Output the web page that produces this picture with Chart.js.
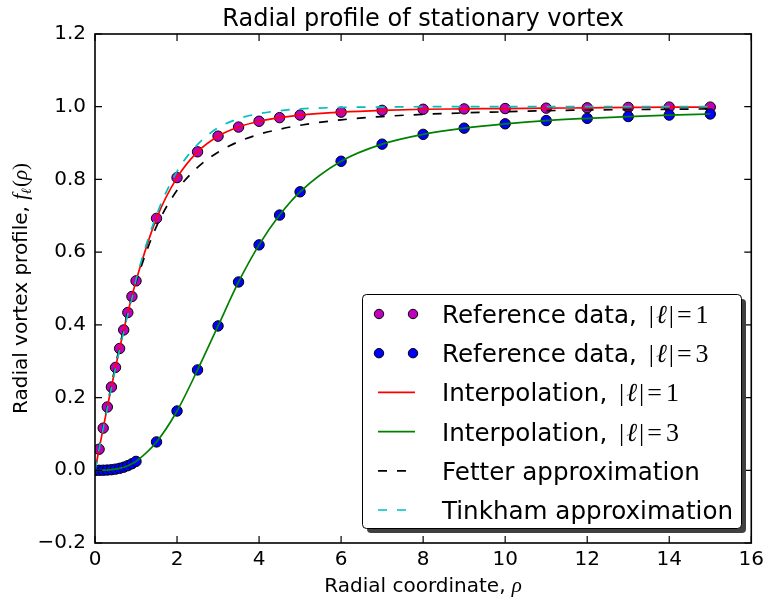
<!DOCTYPE html>
<html>
<head>
<meta charset="utf-8">
<title>Radial profile of stationary vortex</title>
<script src="https://cdn.jsdelivr.net/npm/chart.js@4.4.1/dist/chart.umd.min.js"></script>
<style>
  html, body { margin: 0; padding: 0; background: #fff; }
  canvas { display: block; }
</style>
</head>
<body>
<canvas id="vortexChart" width="769" height="599"></canvas>
<script>
// radial coordinate of the sampled points
const rho = [0, 0.1, 0.2, 0.3, 0.4, 0.5, 0.6, 0.7, 0.8, 0.9, 1.0,
  1.5, 2, 2.5, 3, 3.5, 4, 4.5, 5, 6, 7, 8, 9, 10, 11, 12, 13, 14, 15];

// reference data
const refL1 = [0, 0.058, 0.116, 0.174, 0.229, 0.283, 0.335, 0.386, 0.434, 0.478, 0.521,
  0.693, 0.805, 0.876, 0.919, 0.944, 0.960, 0.970, 0.977, 0.985, 0.990, 0.993, 0.994,
  0.995, 0.996, 0.997, 0.998, 0.999, 0.999];
const refL3 = [0, 0.0000, 0.0002, 0.0007, 0.0016, 0.0031, 0.0054, 0.0085, 0.0127, 0.0180, 0.0245,
  0.078, 0.163, 0.276, 0.397, 0.518, 0.620, 0.702, 0.766, 0.850, 0.897, 0.924, 0.941,
  0.953, 0.962, 0.968, 0.973, 0.977, 0.980];

// approximations (dashed curves)
const fetter = [0, 0.060, 0.120, 0.178, 0.235, 0.289, 0.340, 0.389, 0.435, 0.477, 0.517,
  0.671, 0.770, 0.833, 0.875, 0.904, 0.924, 0.938, 0.949, 0.964, 0.973, 0.979, 0.983,
  0.986, 0.989, 0.991, 0.992, 0.993, 0.994];
const tinkham = [0, 0.058, 0.116, 0.172, 0.228, 0.282, 0.333, 0.382, 0.429, 0.473, 0.523,
  0.702, 0.822, 0.896, 0.942, 0.967, 0.981, 0.989, 0.994, 0.998, 0.999, 1.0, 1.0,
  1.0, 1.0, 1.0, 1.0, 1.0, 1.0];

const xTicks = [0, 2, 4, 6, 8, 10, 12, 14, 16];
const yTicks = [-0.2, 0.0, 0.2, 0.4, 0.6, 0.8, 1.0, 1.2];

const SANS = '"DejaVu Sans", sans-serif';
const SERIF = '"Liberation Serif", "DejaVu Serif", serif';

const toPoints = ys => rho.map((r, i) => ({ x: r, y: ys[i] }));

// draws a row of text pieces with different fonts
function drawRuns(ctx, runs, x, y, align) {
  let total = 0;
  runs.forEach(r => {
    ctx.font = r.font;
    total += ctx.measureText(r.t).width + (r.gap || 0);
  });
  let cx = align === 'center' ? x - total / 2 : x;
  ctx.textAlign = 'left';
  ctx.textBaseline = 'alphabetic';
  runs.forEach(r => {
    ctx.font = r.font;
    ctx.fillText(r.t, cx, y + (r.dy || 0));
    cx += ctx.measureText(r.t).width + (r.gap || 0);
  });
}

function mathEll(n, size) {
  const up = `${size}px ${SERIF}`;
  return [
    { t: '|', font: up, gap: 2 },
    { t: 'ℓ', font: `italic ${size}px ${SERIF}`, gap: 2 },
    { t: '|', font: up, gap: 3 },
    { t: '=', font: up, gap: 4 },
    { t: n, font: up }
  ];
}

// frame, inward ticks, axis labels and the shadowed legend
const decorations = {
  id: 'decorations',
  afterDatasetsDraw(chart) {
    const { ctx, chartArea: a, scales } = chart;
    ctx.save();
    ctx.strokeStyle = '#000';
    ctx.lineWidth = 1.2;
    ctx.beginPath();
    xTicks.forEach(v => {
      const px = scales.x.getPixelForValue(v);
      ctx.moveTo(px, a.bottom); ctx.lineTo(px, a.bottom - 7);
      ctx.moveTo(px, a.top); ctx.lineTo(px, a.top + 7);
    });
    yTicks.forEach(v => {
      const py = scales.y.getPixelForValue(v);
      ctx.moveTo(a.left, py); ctx.lineTo(a.left + 7, py);
      ctx.moveTo(a.right, py); ctx.lineTo(a.right - 7, py);
    });
    ctx.stroke();
    ctx.lineWidth = 1.6;
    ctx.strokeRect(a.left, a.top, a.right - a.left, a.bottom - a.top);
    ctx.restore();
  },
  afterDraw(chart) {
    const { ctx, chartArea: a } = chart;
    ctx.save();
    ctx.fillStyle = '#000';

    // x label
    drawRuns(ctx, [
      { t: 'Radial coordinate, ', font: `20px ${SANS}` },
      { t: 'ρ', font: `italic 21px ${SERIF}` }
    ], (a.left + a.right) / 2, 592, 'center');

    // y label, rotated
    ctx.save();
    ctx.translate(27, (a.top + a.bottom) / 2);
    ctx.rotate(-Math.PI / 2);
    drawRuns(ctx, [
      { t: 'Radial vortex profile, ', font: `20px ${SANS}` },
      { t: 'f', font: `italic 21px ${SERIF}`, gap: 0 },
      { t: 'ℓ', font: `italic 14px ${SERIF}`, dy: 4, gap: 1 },
      { t: '(', font: `21px ${SERIF}` },
      { t: 'ρ', font: `italic 21px ${SERIF}` },
      { t: ')', font: `21px ${SERIF}` }
    ], 0, 0, 'center');
    ctx.restore();

    // legend box with shadow
    const L = { x: 362, y: 294, w: 379, h: 234 };
    ctx.fillStyle = '#404040';
    ctx.beginPath();
    ctx.roundRect(L.x + 5, L.y + 5, L.w, L.h, 4);
    ctx.fill();
    ctx.fillStyle = '#fff';
    ctx.strokeStyle = '#000';
    ctx.lineWidth = 1;
    ctx.beginPath();
    ctx.roundRect(L.x + 0.5, L.y + 0.5, L.w, L.h, 4);
    ctx.fill();
    ctx.stroke();

    chart.data.datasets.forEach((ds, i) => {
      const cy = 314 + i * 39.2;
      if (!ds.showLine) {
        [379, 413].forEach(mx => {
          ctx.beginPath();
          ctx.arc(mx, cy, 4.7, 0, Math.PI * 2);
          ctx.fillStyle = ds.pointBackgroundColor;
          ctx.fill();
          ctx.lineWidth = 1;
          ctx.strokeStyle = '#000';
          ctx.stroke();
        });
      } else {
        ctx.beginPath();
        ctx.setLineDash(ds.borderDash || []);
        ctx.strokeStyle = ds.borderColor;
        ctx.lineWidth = ds.borderWidth;
        ctx.moveTo(378, cy);
        ctx.lineTo(415, cy);
        ctx.stroke();
        ctx.setLineDash([]);
      }
      ctx.fillStyle = '#000';
      const runs = [{ t: ds.label, font: `24.6px ${SANS}`, gap: ds.ell ? 4 : 0 }];
      if (ds.ell) runs.push(...mathEll(ds.ell, 26));
      drawRuns(ctx, runs, 442, cy + 9, 'left');
    });
    ctx.restore();
  }
};

const ctx = document.getElementById('vortexChart').getContext('2d');
const vortexChart = new Chart(ctx, {
  type: 'scatter',
  data: {
    datasets: [
      {
        label: 'Reference data, ', ell: '1',
        data: toPoints(refL1), showLine: false,
        pointRadius: 5.2, pointBackgroundColor: '#bf00bf',
        pointBorderColor: '#000', pointBorderWidth: 1, order: 6
      },
      {
        label: 'Reference data, ', ell: '3',
        data: toPoints(refL3), showLine: false,
        pointRadius: 5.2, pointBackgroundColor: '#0000ff',
        pointBorderColor: '#000', pointBorderWidth: 1, order: 5
      },
      {
        label: 'Interpolation, ', ell: '1',
        data: toPoints(refL1), showLine: true, pointRadius: 0,
        borderColor: '#ff0000', borderWidth: 1.7,
        cubicInterpolationMode: 'monotone', order: 4
      },
      {
        label: 'Interpolation, ', ell: '3',
        data: toPoints(refL3), showLine: true, pointRadius: 0,
        borderColor: '#008000', borderWidth: 1.7,
        cubicInterpolationMode: 'monotone', order: 3
      },
      {
        label: 'Fetter approximation',
        data: toPoints(fetter), showLine: true, pointRadius: 0,
        borderColor: '#000000', borderWidth: 1.7, borderDash: [9, 10],
        cubicInterpolationMode: 'monotone', order: 2
      },
      {
        label: 'Tinkham approximation',
        data: toPoints(tinkham), showLine: true, pointRadius: 0,
        borderColor: '#00bfbf', borderWidth: 1.7, borderDash: [9, 10],
        cubicInterpolationMode: 'monotone', order: 1
      }
    ]
  },
  options: {
    responsive: false,
    animation: false,
    devicePixelRatio: 1,
    events: [],
    layout: { padding: { left: 0, right: 14, top: 0, bottom: 0 } },
    scales: {
      x: {
        type: 'linear', min: 0, max: 16,
        afterBuildTicks: s => { s.ticks = xTicks.map(v => ({ value: v })); },
        afterFit: s => { s.height = 56; },
        grid: { display: false, drawTicks: false },
        border: { display: false },
        ticks: {
          color: '#000', font: { family: SANS, size: 20 }, padding: 5,
          maxRotation: 0, autoSkip: false, callback: v => String(v)
        }
      },
      y: {
        type: 'linear', min: -0.2, max: 1.2,
        afterBuildTicks: s => { s.ticks = yTicks.map(v => ({ value: v })); },
        afterFit: s => { s.width = 95; },
        grid: { display: false, drawTicks: false },
        border: { display: false },
        ticks: {
          color: '#000', font: { family: SANS, size: 20 }, padding: 9,
          autoSkip: false,
          callback: v => (v < -1e-9 ? '\u2212' : '') + Math.abs(v).toFixed(1)
        }
      }
    },
    plugins: {
      legend: { display: false },
      tooltip: { enabled: false },
      title: {
        display: true,
        text: 'Radial profile of stationary vortex',
        color: '#000',
        fullSize: false,
        font: { family: SANS, size: 24, weight: 'normal' },
        padding: { top: 5, bottom: 0.2 }
      }
    }
  },
  plugins: [decorations]
});
</script>
</body>
</html>
